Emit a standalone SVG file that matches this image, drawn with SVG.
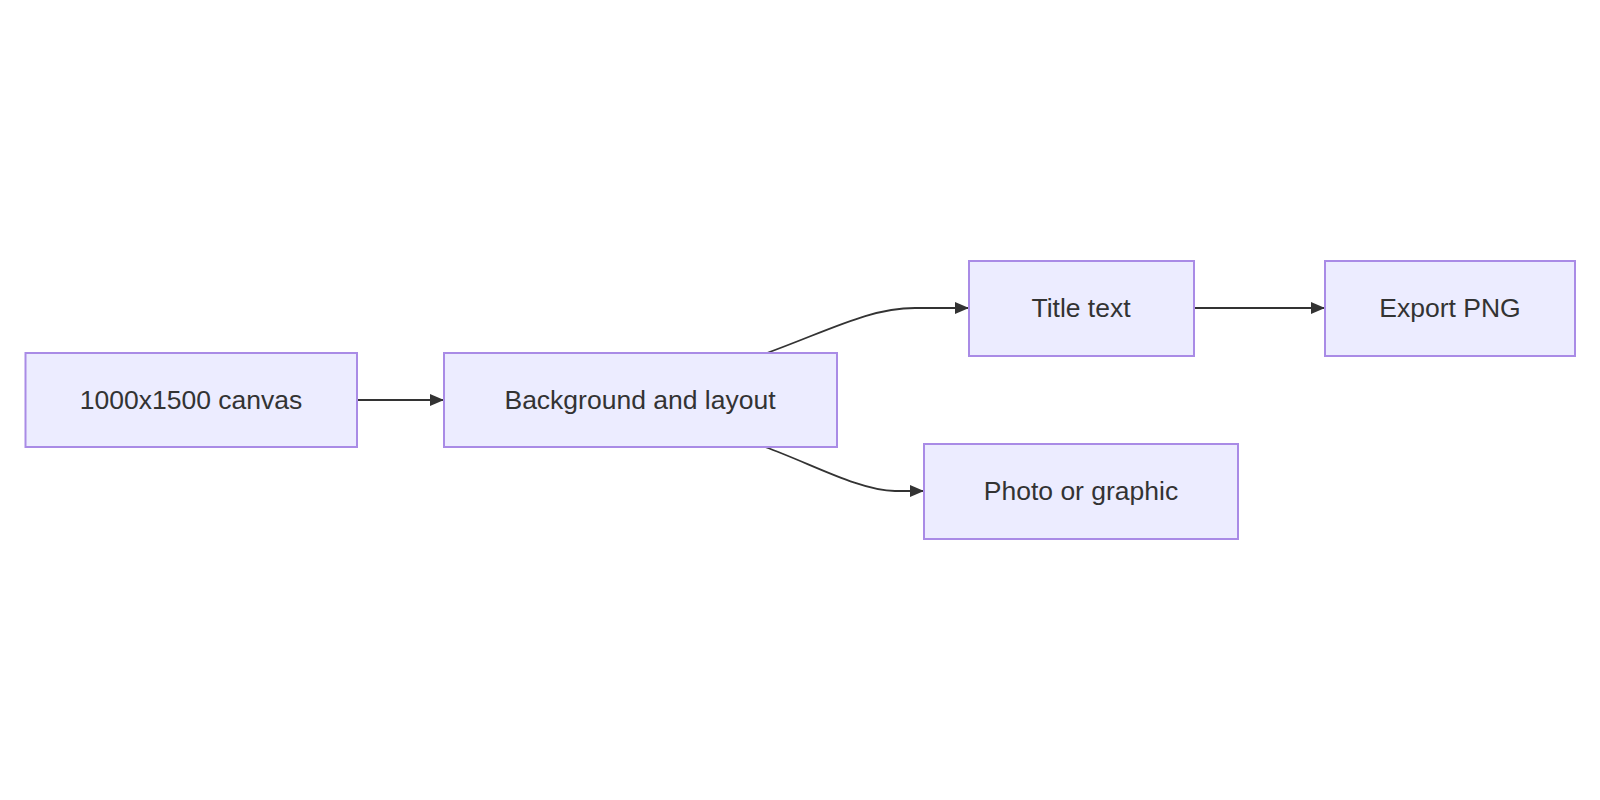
<svg xmlns="http://www.w3.org/2000/svg" width="1600" height="800" viewBox="0 0 1600 800">
<defs>
<style>
.node rect{fill:#ECECFF;stroke:#A98BE6;stroke-width:2}
.node text{font-family:"Liberation Sans",Arial,sans-serif;font-size:26.5px;fill:#333333;text-anchor:middle;dominant-baseline:central}
.edge{fill:none;stroke:#333333;stroke-width:1.8;marker-end:url(#arrow)}
</style>
<marker id="arrow" viewBox="0 0 14 12" refX="14" refY="6" markerWidth="14" markerHeight="12" markerUnits="userSpaceOnUse" orient="auto">
<path d="M0,0 L14,6 L0,12 z" fill="#333333"/>
</marker>
</defs>
<rect width="1600" height="800" fill="#ffffff"/>
<g id="connectors">
<path class="edge" d="M357,400 L444,400"/>
<path class="edge" d="M767,353 C830,330 870,308 915,308 L969,308"/>
<path class="edge" d="M765,447 C810,463 860,491 895,491 L924,491"/>
<path class="edge" d="M1194,308 L1325,308"/>
</g>
<g id="n1" class="node"><rect x="25.5" y="353" width="331.5" height="94"/><text x="191" y="400">1000x1500 canvas</text></g>
<g id="n2" class="node"><rect x="444" y="353" width="393" height="94"/><text x="640" y="400">Background and layout</text></g>
<g id="n3" class="node"><rect x="969" y="261" width="225" height="95"/><text x="1081" y="308">Title text</text></g>
<g id="n4" class="node"><rect x="1325" y="261" width="250" height="95"/><text x="1450" y="308">Export PNG</text></g>
<g id="n5" class="node"><rect x="924" y="444" width="314" height="95"/><text x="1081" y="491">Photo or graphic</text></g>
</svg>
